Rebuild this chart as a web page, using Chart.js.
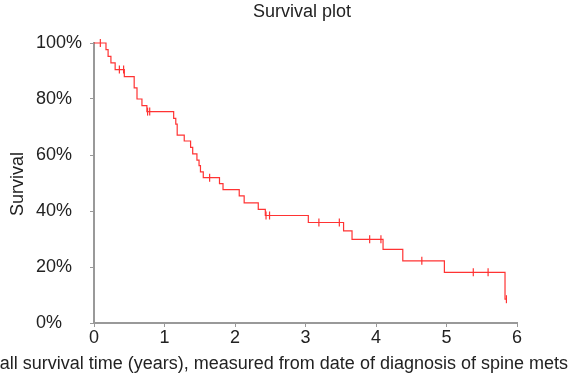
<!DOCTYPE html>
<html>
<head>
<meta charset="utf-8">
<title>Survival plot</title>
<script src="https://cdn.jsdelivr.net/npm/chart.js@4"></script>
<style>
  html, body { margin: 0; padding: 0; background: #fff; }
  #wrap { width: 571px; height: 375px; }
</style>
</head>
<body>
<div id="wrap"><canvas id="survChart" width="571" height="375"></canvas></div>
<script>
// Kaplan-Meier step data (years, % surviving)
const eventTimes = [0, 0.17, 0.20, 0.24, 0.30, 0.43, 0.57, 0.61, 0.68, 0.75, 1.13, 1.16, 1.18, 1.28, 1.37, 1.40, 1.46, 1.49, 1.51, 1.55, 1.78, 1.83, 2.06, 2.13, 2.33, 2.43, 3.04, 3.54, 3.66, 4.10, 4.38, 4.97, 5.83, 5.85];
const survival = [100, 97.6, 95.2, 92.9, 90.5, 88.0, 84.0, 80.0, 77.6, 75.5, 73.1, 71.0, 67.1, 65.0, 62.7, 60.4, 58.2, 56.2, 54.0, 51.9, 49.8, 47.6, 45.4, 42.9, 40.6, 38.4, 35.9, 32.9, 29.9, 26.3, 22.2, 18.1, 8.5, 8.5];

// censored observations
const censorTimes = [0.09, 0.36, 0.42, 0.76, 0.79, 1.64, 2.44, 2.49, 3.19, 3.48, 3.91, 4.07, 4.65, 5.38, 5.59, 5.85];
const censorSurvival = [100, 90.5, 90.5, 75.5, 75.5, 51.9, 38.4, 38.4, 35.9, 35.9, 29.9, 29.9, 22.2, 18.1, 18.1, 8.5];

const xTicks = [0, 1, 2, 3, 4, 5, 6];
const yTicks = [0, 20, 40, 60, 80, 100];

const chartTitle = "Survival plot";
const xTitle = "Overall survival time (years), measured from date of diagnosis of spine mets";
const yTitle = "Survival";

const FONT = "'Liberation Sans', Arial, Helvetica, sans-serif";
const AXIS_GREY = "#999999";
const TEXT = "#222222";
const RED = "#ff3333";

// titles drawn by hand so they sit where the original has them
const titlesPlugin = {
    id: "titles",
    afterDraw(chart) {
        const ctx = chart.ctx;
        ctx.save();
        ctx.fillStyle = TEXT;
        ctx.textBaseline = "middle";

        ctx.font = "18px " + FONT;
        ctx.textAlign = "center";
        ctx.fillText(chartTitle, 302, 12);

        ctx.textAlign = "right";
        ctx.fillText(xTitle, 568, 364);

        ctx.translate(18, 184);
        ctx.rotate(-Math.PI / 2);
        ctx.textAlign = "center";
        ctx.fillText(yTitle, 0, 0);
        ctx.restore();
    }
};

const ctx = document.getElementById("survChart");
new Chart(ctx, {
    type: "line",
    data: {
        datasets: [
            {
                label: "Survival",
                data: eventTimes.map((t, i) => ({ x: t, y: survival[i] })),
                borderColor: RED,
                borderWidth: 1.2,
                stepped: true,
                pointRadius: 0,
                fill: false,
                clip: false
            },
            {
                type: "scatter",
                label: "Censored",
                data: censorTimes.map((t, i) => ({ x: t, y: censorSurvival[i] })),
                showLine: false,
                pointStyle: "line",
                rotation: 90,
                pointRadius: 4,
                borderColor: RED,
                backgroundColor: RED,
                borderWidth: 1.2,
                clip: false
            }
        ]
    },
    options: {
        responsive: false,
        animation: false,
        devicePixelRatio: 1,
        layout: { padding: { left: 36, right: 54, top: 43, bottom: 0 } },
        plugins: {
            legend: { display: false },
            title: { display: false },
            tooltip: { enabled: false }
        },
        scales: {
            x: {
                type: "linear",
                min: 0,
                max: 6,
                afterBuildTicks: (axis) => { axis.ticks = xTicks.map(v => ({ value: v })); },
                afterFit: (axis) => { axis.height = 52; },
                grid: { drawOnChartArea: false, drawTicks: true, tickLength: 4, color: AXIS_GREY },
                border: { display: true, color: AXIS_GREY, width: 2 },
                ticks: { color: TEXT, font: { family: FONT, size: 18 }, padding: 0, maxRotation: 0 }
            },
            y: {
                type: "linear",
                min: 0,
                max: 100,
                afterBuildTicks: (axis) => { axis.ticks = yTicks.map(v => ({ value: v })); },
                afterFit: (axis) => { axis.width = 58; },
                grid: { drawOnChartArea: false, drawTicks: true, tickLength: 4, color: AXIS_GREY },
                border: { display: true, color: AXIS_GREY, width: 2 },
                ticks: {
                    color: TEXT,
                    font: { family: FONT, size: 18 },
                    crossAlign: "far",
                    callback: (v) => v + "%"
                }
            }
        }
    },
    plugins: [titlesPlugin]
});
</script>
</body>
</html>
